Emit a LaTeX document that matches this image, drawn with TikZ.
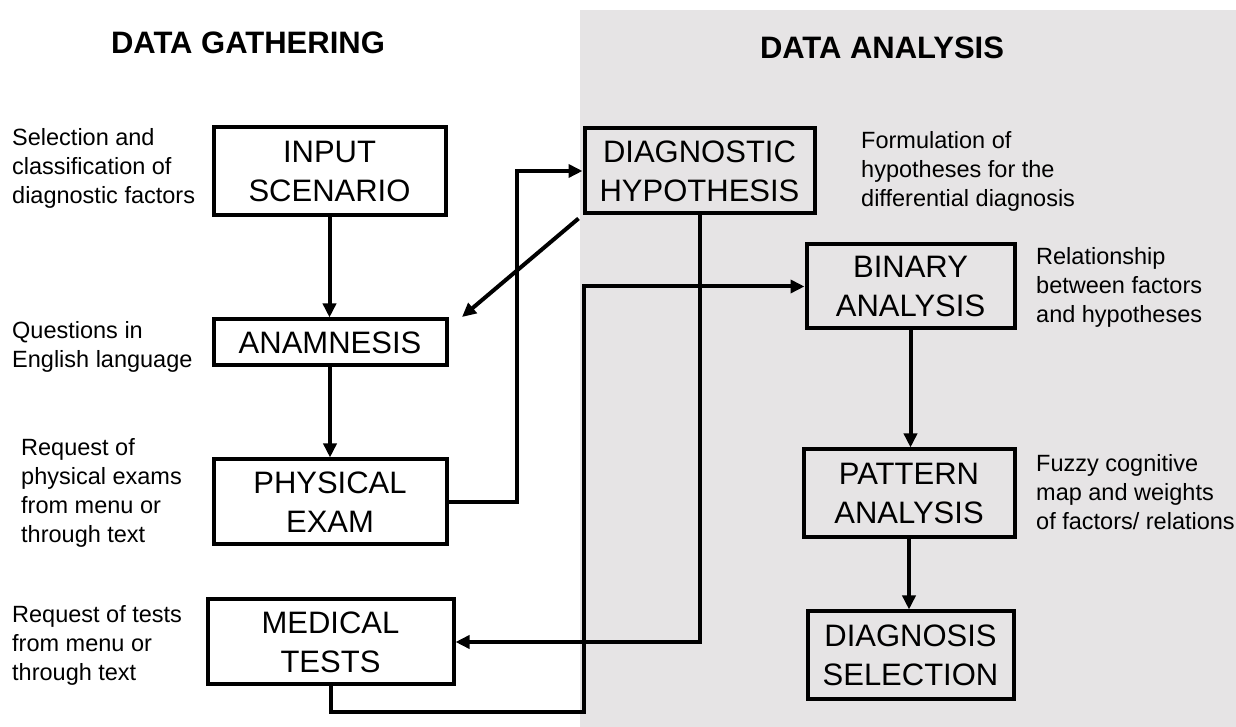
\documentclass[tikz,border=0pt]{standalone}
\usepackage{fontspec}
\setmainfont{Liberation Sans}
\usepackage{tikz}
\usetikzlibrary{arrows.meta,positioning}
\definecolor{panelgray}{RGB}{230,228,229}
\newcommand{\boxfont}{\fontsize{31}{39}\selectfont}
\newcommand{\notefont}{\fontsize{23.5}{29}\selectfont}

\begin{document}
\begin{tikzpicture}[
    x=1pt, y=1pt,
    box/.style={rectangle, draw, line width=4pt, inner sep=0pt, align=center, font=\boxfont},
    note/.style={anchor=west, align=left, inner sep=0pt, font=\notefont},
    heading/.style={font=\fontsize{31}{36}\selectfont\bfseries},
    arrow/.style={-{Triangle[length=14pt,width=13pt]}, line width=4pt}
]
\useasboundingbox (0,0) rectangle (1236,727);
\fill[panelgray] (580,0) rectangle (1236,717);

\node[heading] (gather) at (248,684) {DATA GATHERING};
\node[heading] (analysis) at (882,679.5) {DATA ANALYSIS};

\node[box, minimum width=232pt, minimum height=88pt] (input) at (329.5,555.5) {INPUT\\SCENARIO};
\node[box, minimum width=233pt, minimum height=46pt] (anam) at (330,384.5) {ANAMNESIS};
\node[box, minimum width=233pt, minimum height=85pt] (phys) at (330,225) {PHYSICAL\\EXAM};
\node[box, minimum width=246pt, minimum height=85pt] (med) at (330.5,85) {MEDICAL\\TESTS};
\node[box, minimum width=230pt, minimum height=85pt] (hyp) at (699.5,556) {DIAGNOSTIC\\HYPOTHESIS};
\node[box, minimum width=208pt, minimum height=84pt] (bin) at (910.5,440.5) {BINARY\\ANALYSIS};
\node[box, minimum width=211pt, minimum height=88pt] (pat) at (909,233.5) {PATTERN\\ANALYSIS};
\node[box, minimum width=206pt, minimum height=88pt] (sel) at (910.5,71.5) {DIAGNOSIS\\SELECTION};

\node[note] (n1) at (12,559) {Selection and\\classification of\\diagnostic factors};
\node[note] (n2) at (12,380) {Questions in\\English language};
\node[note] (n3) at (21,234) {Request of\\physical exams\\from menu or\\through text};
\node[note] (n4) at (12,82) {Request of tests\\from menu or\\through text};
\node[note] (n5) at (861,556) {Formulation of\\hypotheses for the\\differential diagnosis};
\node[note] (n6) at (1036,440) {Relationship\\between factors\\and hypotheses};
\node[note] (n7) at (1036,235) {Fuzzy cognitive\\map and weights\\of factors/ relations};

\coordinate (back) at (462,410);

\draw[arrow] (input.south) -- (input.south |- anam.north);
\draw[arrow] (anam.south) -- (anam.south |- phys.north);
\draw[arrow] (bin.south) -- (bin.south |- pat.north);
\draw[arrow] (pat.south) -- (pat.south |- sel.north);
\draw[arrow] (phys.east) -- ++(68,0) |- (hyp.west);
\draw[arrow] ([shift={(-4,-3)}]hyp.south west) -- (back);
\draw[arrow] (hyp.south) |- (med.east);
\draw[arrow] (med.south) -- ++(0,-26) -| ([xshift=-221pt]bin.west) -- (bin.west);
\end{tikzpicture}
\end{document}
